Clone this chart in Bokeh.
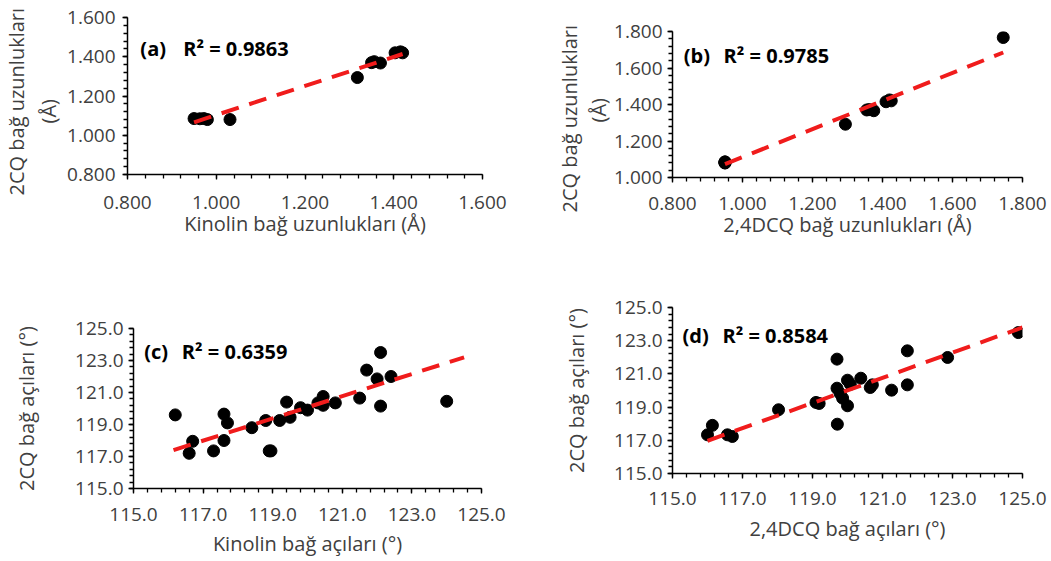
import numpy as np
from math import pi
from bokeh.plotting import figure
from bokeh.layouts import column, row
from bokeh.models import Label, Title, FixedTicker, PrintfTickFormatter, Range1d, Spacer
from bokeh.embed import file_html
from bokeh.resources import INLINE

# ---------------- data ----------------
a_x = [0.950, 0.963, 0.972, 0.980, 1.031, 1.318, 1.350, 1.356, 1.370, 1.403, 1.415, 1.420]
a_y = [1.085, 1.084, 1.085, 1.080, 1.080, 1.294, 1.370, 1.375, 1.368, 1.420, 1.425, 1.420]
b_x = [0.950, 0.950, 0.950, 0.950, 0.950, 1.294, 1.355, 1.362, 1.375, 1.410, 1.420, 1.425, 1.745]
b_y = [1.085, 1.084, 1.085, 1.080, 1.080, 1.292, 1.370, 1.372, 1.366, 1.415, 1.425, 1.420, 1.767]
c_x = [116.2, 116.6, 116.7, 117.3, 117.6, 117.6, 117.7, 118.4, 118.8, 118.9, 118.95, 119.2, 119.4,
       119.5, 119.8, 120.0, 120.3, 120.45, 120.45, 120.8, 121.5, 121.7, 122.0, 122.1, 122.1, 122.4, 124.0]
c_y = [119.6, 117.2, 117.95, 117.35, 119.65, 118.0, 119.1, 118.8, 119.25, 117.35, 117.35, 119.25, 120.4,
       119.45, 120.05, 119.9, 120.35, 120.75, 120.2, 120.35, 120.65, 122.4, 121.85, 123.5, 120.15, 122.0, 120.45]
d_x = [116.0, 116.14, 116.57, 116.71, 118.03, 119.1, 119.19, 119.7, 119.7, 119.71, 119.79, 119.86,
       120.0, 120.0, 120.08, 120.38, 120.65, 120.71, 121.26, 121.71, 121.71, 122.86, 124.88]
d_y = [117.33, 117.9, 117.33, 117.23, 118.84, 119.28, 119.22, 121.89, 120.14, 117.97, 119.82, 119.54,
       119.08, 120.62, 120.38, 120.74, 120.18, 120.34, 120.02, 122.39, 120.34, 121.99, 123.49]

# linear trend lines (end values)
trend_a_x, trend_a_y = [0.950, 1.420], [1.066, 1.414]
trend_b_x, trend_b_y = [0.950, 1.745], [1.073, 1.685]
trend_c_x, trend_c_y = [116.15, 124.5], [117.4, 123.2]
trend_d_x, trend_d_y = [116.0, 125.0], [116.97, 123.8]

tags = ["(a)", "(b)", "(c)", "(d)"]
r2_texts = ["R² = 0.9863", "R² = 0.9785", "R² = 0.6359", "R² = 0.8584"]
x_titles = ["Kinolin bağ uzunlukları (Å)", "2,4DCQ bağ uzunlukları (Å)",
            "Kinolin bağ açıları (°)", "2,4DCQ bağ açıları (°)"]
y_title_len = ["2CQ bağ uzunlukları", "(Å)"]
y_title_ang = "2CQ bağ açıları (°)"
len_ticks = [0.8, 1.0, 1.2, 1.4, 1.6, 1.8]
ang_ticks = [115.0, 117.0, 119.0, 121.0, 123.0, 125.0]

FONT = "Open Sans"
TXT = "#404040"
RED = "#f01c1c"


def make_panel(xs, ys, tx, ty, xr, yr, ticks, fmt, w, h, bl, br, bt, bb,
               xtitle, tag, r2, tag_xy, r2_x, xl_standoff, xt_standoff,
               ytitle=None, yt_standoff=5, yl_standoff=5):
    p = figure(width=w, height=h, x_range=Range1d(*xr), y_range=Range1d(*yr),
               output_backend="svg", toolbar_location=None,
               min_border_left=bl, min_border_right=br,
               min_border_top=bt, min_border_bottom=bb)
    p.outline_line_color = None
    p.grid.visible = False
    p.background_fill_color = "white"
    p.border_fill_color = "white"
    step = ticks[1] - ticks[0]
    minor = [ticks[0] + i * step / 5 for i in range(5 * (len(ticks) - 1) + 1)]
    for ax in (p.xaxis[0], p.yaxis[0]):
        ax.ticker = FixedTicker(ticks=ticks, minor_ticks=minor)
        ax.formatter = PrintfTickFormatter(format=fmt)
        ax.axis_line_color = "black"
        ax.axis_line_width = 1.5
        ax.major_tick_line_color = "black"
        ax.minor_tick_line_color = "black"
        ax.major_tick_line_width = 1.3
        ax.minor_tick_line_width = 1.3
        ax.major_tick_out = 5
        ax.major_tick_in = 0
        ax.minor_tick_out = 4
        ax.minor_tick_in = 0
        ax.major_label_text_font = FONT
        ax.major_label_text_font_size = "19px"
        ax.major_label_text_color = TXT
        ax.axis_label_text_font = FONT
        ax.axis_label_text_font_size = "20px"
        ax.axis_label_text_font_style = "normal"
        ax.axis_label_text_color = TXT
    p.xaxis.major_label_standoff = xl_standoff
    p.xaxis.axis_label = xtitle
    p.xaxis.axis_label_standoff = xt_standoff
    p.yaxis.major_label_standoff = yl_standoff
    if ytitle is not None:
        p.yaxis.axis_label = ytitle
        p.yaxis.axis_label_standoff = yt_standoff

    p.scatter(xs, ys, size=12, color="black", marker="circle")
    p.line(tx, ty, line_color=RED, line_width=4, line_dash="18 11")

    p.add_layout(Label(x=tag_xy[0], y=tag_xy[1], text=tag, text_font=FONT,
                       text_font_size="20px", text_font_style="bold",
                       text_color="black", text_baseline="alphabetic"))
    p.add_layout(Label(x=r2_x, y=tag_xy[1], text=r2, text_font=FONT,
                       text_font_size="20px", text_font_style="bold",
                       text_color="black", text_baseline="alphabetic"))
    return p


def add_ytitles(p, offs2, offs1, st2, st1):
    t2 = Title(text=y_title_len[1], align="left", offset=offs2, standoff=st2,
               text_font=FONT, text_font_size="20px", text_font_style="normal",
               text_color=TXT)
    t1 = Title(text=y_title_len[0], align="left", offset=offs1, standoff=st1,
               text_font=FONT, text_font_size="20px", text_font_style="normal",
               text_color=TXT)
    p.add_layout(t2, "left")
    p.add_layout(t1, "left")


# column 1: (a) over (c); column 2: (b) over (d)
pa = make_panel(a_x, a_y, trend_a_x, trend_a_y, (0.8, 1.6), (0.8, 1.6), len_ticks[:5], "%.3f",
                530, 250, 125, 48, 17, 76, x_titles[0], tags[0], r2_texts[0],
                (0.829, 1.442), 0.9255, 16, -2, yl_standoff=7)
add_ytitles(pa, 51, -21, 6, 0)

pc = make_panel(c_x, c_y, trend_c_x, trend_c_y, (115, 125), (115, 125), ang_ticks, "%.1f",
                522, 310, 125, 49, 78, 72, x_titles[2], tags[2], r2_texts[2],
                (115.307, 123.54), 116.389, 14, 6, ytitle=y_title_ang, yt_standoff=32)

pb = make_panel(b_x, b_y, trend_b_x, trend_b_y, (0.8, 1.8), (1.0, 1.8), len_ticks, "%.3f",
                521, 250, 142, 28, 31, 73, x_titles[1], tags[1], r2_texts[1],
                (0.832, 1.667), 0.946, 14, -2)
add_ytitles(pb, 55, -35, 0, 0)

pd = make_panel(d_x, d_y, trend_d_x, trend_d_y, (115, 125), (115, 125), ang_ticks, "%.1f",
                521, 310, 142, 29, 57, 87, x_titles[3], tags[3], r2_texts[3],
                (115.286, 123.295), 116.429, 13, 7, ytitle=y_title_ang, yt_standoff=21)

layout = row(column(pa, row(Spacer(width=8, height=310), pc)), column(pb, pd))
open("out.html", "w").write(file_html(layout, INLINE))
